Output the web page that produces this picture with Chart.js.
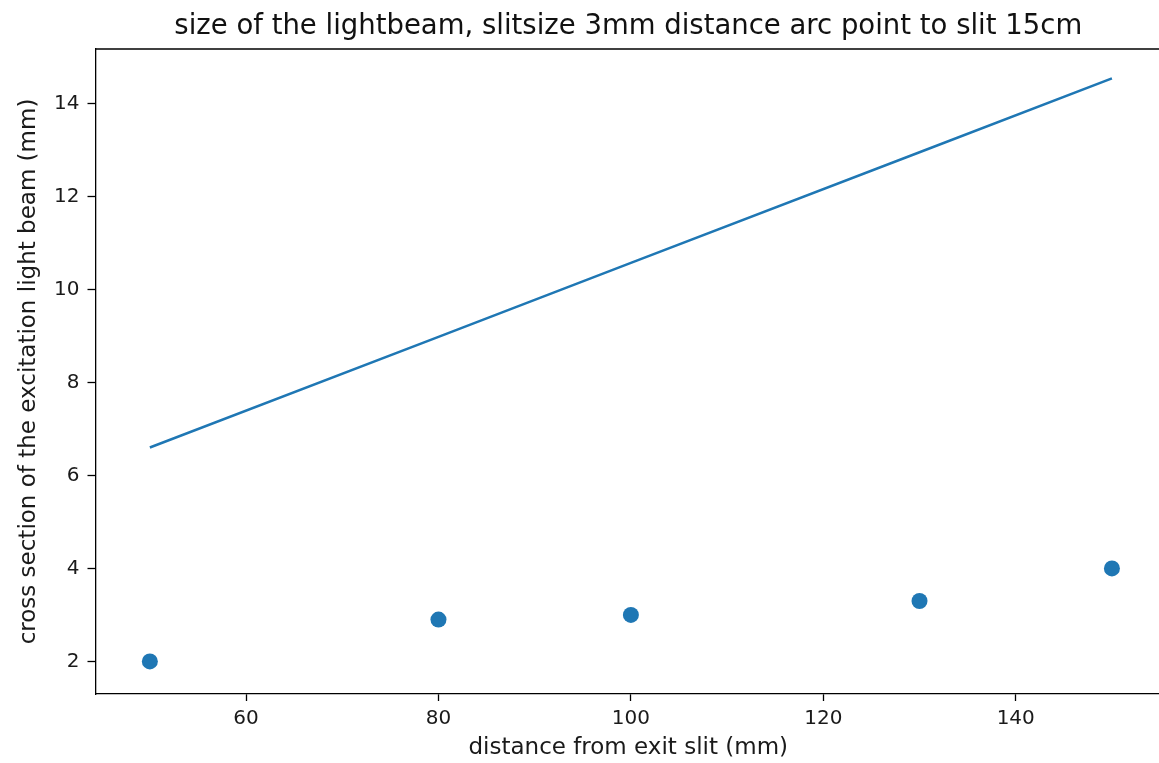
<!DOCTYPE html>
<html>
<head>
<meta charset="utf-8">
<script src="https://cdn.jsdelivr.net/npm/chart.js@4"></script>
<style>
  html, body { margin: 0; padding: 0; background: #fff; overflow: hidden; }
  canvas { display: block; }
</style>
</head>
<body>
<!-- a little wider than the window: the right spine falls just outside, as in the reference -->
<canvas id="beamChart" width="1169" height="763"></canvas>
<script>
// measured beam size at each distance
const distances = [50, 80, 100, 130, 150];
const measured = [2.0, 2.9, 3.0, 3.3, 4.0];
// calculated beam size (straight line)
const calcDistances = [50, 80, 100, 130, 150];
const calculated = [6.6, 8.98, 10.57, 12.95, 14.54];

const xTicks = [60, 80, 100, 120, 140];
const yTicks = [2, 4, 6, 8, 10, 12, 14];

const blue = '#1f77b4';
const fontFamily = '"DejaVu Sans", sans-serif';

// matplotlib style top spine
const topSpine = {
    id: 'topSpine',
    afterDraw(chart) {
        const { ctx, chartArea } = chart;
        ctx.save();
        ctx.strokeStyle = '#000';
        ctx.lineWidth = 1.3;
        ctx.beginPath();
        ctx.moveTo(chartArea.left, chartArea.top);
        ctx.lineTo(chartArea.right, chartArea.top);
        ctx.stroke();
        ctx.restore();
    }
};

const ctx = document.getElementById('beamChart').getContext('2d');
new Chart(ctx, {
    type: 'scatter',
    data: {
        datasets: [{
            label: 'calculated',
            type: 'line',
            data: calcDistances.map((x, i) => ({ x: x, y: calculated[i] })),
            borderColor: blue,
            borderWidth: 2.5,
            pointRadius: 0,
            tension: 0,
            fill: false
        }, {
            label: 'measured',
            data: distances.map((x, i) => ({ x: x, y: measured[i] })),
            backgroundColor: blue,
            borderWidth: 0,
            pointRadius: 8,
            showLine: false
        }]
    },
    options: {
        responsive: false,
        animation: false,
        layout: { padding: 0 },
        plugins: {
            legend: { display: false },
            tooltip: { enabled: false },
            title: {
                display: true,
                text: 'size of the lightbeam, slitsize 3mm distance arc point to slit 15cm',
                fullSize: false,
                color: '#111',
                font: { family: fontFamily, size: 27.5, weight: 'normal', lineHeight: 1.2 },
                padding: { top: 10, bottom: 6 }
            }
        },
        scales: {
            x: {
                type: 'linear',
                min: 44.35,
                max: 155.1,
                afterBuildTicks: axis => { axis.ticks = xTicks.map(v => ({ value: v })); },
                afterFit: axis => { axis.height = 69; },
                grid: { drawOnChartArea: false, drawTicks: true, tickLength: 7, tickWidth: 1.3, color: '#000' },
                border: { display: true, color: '#000', width: 1.3 },
                ticks: { color: '#1a1a1a', padding: 6, maxRotation: 0, font: { family: fontFamily, size: 20 } },
                title: {
                    display: true,
                    text: 'distance from exit slit (mm)',
                    color: '#1a1a1a',
                    font: { family: fontFamily, size: 23 },
                    padding: { top: 0, bottom: 1 }
                }
            },
            y: {
                type: 'linear',
                min: 1.3,
                max: 15.17,
                afterBuildTicks: axis => { axis.ticks = yTicks.map(v => ({ value: v })); },
                afterFit: axis => { axis.width = 95.5; },
                grid: { drawOnChartArea: false, drawTicks: true, tickLength: 8, tickWidth: 1.3, color: '#000' },
                border: { display: true, color: '#000', width: 1.3 },
                ticks: { color: '#1a1a1a', padding: 8, font: { family: fontFamily, size: 20 } },
                title: {
                    display: true,
                    text: 'cross section of the excitation light beam (mm)',
                    color: '#1a1a1a',
                    font: { family: fontFamily, size: 23 },
                    padding: { top: 15, bottom: 0 }
                }
            }
        }
    },
    plugins: [topSpine]
});
</script>
</body>
</html>
